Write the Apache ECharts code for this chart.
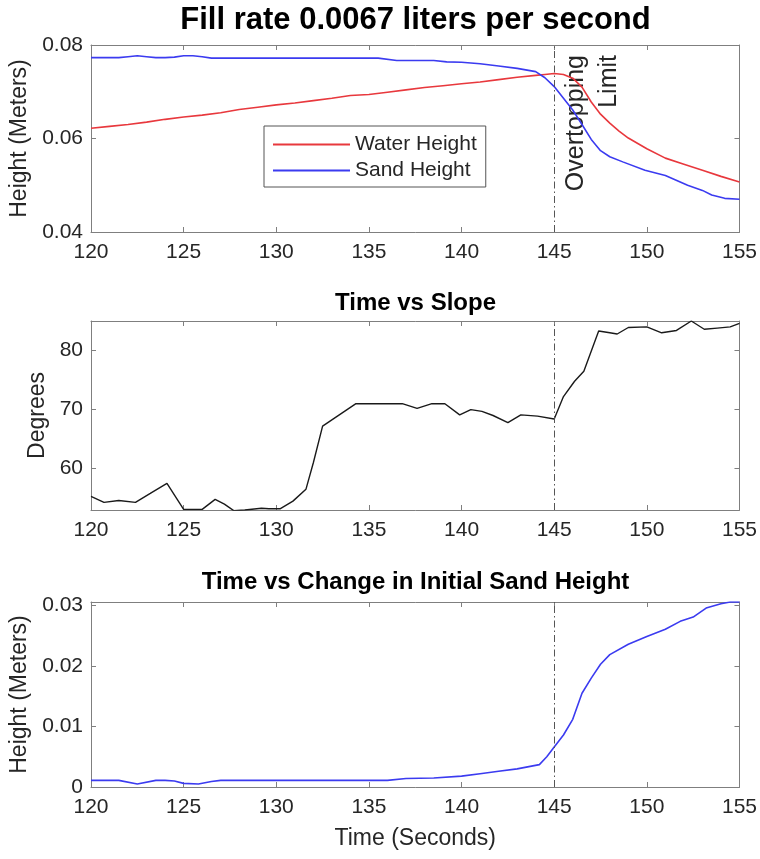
<!DOCTYPE html>
<html>
<head>
<meta charset="utf-8">
<script src="https://cdn.jsdelivr.net/npm/echarts@6/dist/echarts.min.js"></script>
<style>
  html, body { margin: 0; padding: 0; background: #fff; }
  #main { width: 760px; height: 859px; }
</style>
</head>
<body>
<div id="main"></div>
<script>
// water / sand height over time (top plot)
var waterTime = [120, 121, 122, 123, 124, 125, 126, 127, 128, 129, 130, 131, 132, 133, 134, 135, 136, 137, 138, 139,
  140, 141, 142, 143, 144, 144.5, 145, 145.5, 146, 146.5, 147, 147.5, 148, 148.5, 149, 150, 151, 152, 153, 154, 155];
var waterHeight = [0.0622, 0.0626, 0.0630, 0.0635, 0.0641, 0.0646, 0.0650, 0.0655, 0.0662, 0.0667, 0.0672, 0.0676,
  0.0681, 0.0686, 0.0692, 0.0694, 0.0699, 0.0704, 0.0709, 0.0713, 0.0717, 0.0721, 0.0726, 0.0731, 0.0735, 0.0737,
  0.0739, 0.0737, 0.0729, 0.0710, 0.0678, 0.0652, 0.0633, 0.0616, 0.0601, 0.0578, 0.0558, 0.0545, 0.0532, 0.0519, 0.0507];

var sandTime = [120, 121, 121.5, 122, 122.5, 123, 123.5, 124, 124.5, 125, 125.5, 126, 126.5, 130, 135.5, 136.5, 138.5,
  139.2, 140, 141, 142, 143, 144, 144.5, 145, 145.5, 146, 146.5, 147, 147.5, 148, 148.7, 149.9, 151, 152.2, 153,
  153.5, 154.2, 155];
var sandHeight = [0.0773, 0.0773, 0.0773, 0.0775, 0.0777, 0.0775, 0.0773, 0.0773, 0.0774, 0.0777, 0.0777, 0.0775,
  0.0772, 0.0772, 0.0772, 0.0767, 0.0767, 0.0764, 0.0763, 0.0760, 0.0755, 0.0750, 0.0743, 0.0730, 0.0711, 0.0686,
  0.0661, 0.0630, 0.0598, 0.0574, 0.0561, 0.0550, 0.0532, 0.0521, 0.0500, 0.0489, 0.0479, 0.0472, 0.0470];

// slope (middle plot)
var slopeTime = [120, 120.7, 121.5, 122.4, 123.2, 124.1, 125, 125.5, 126, 126.7, 127.2, 127.7, 128.3, 129.2, 129.6,
  130.2, 130.9, 131.6, 132, 132.5, 133.3, 134.3, 135, 136, 136.8, 137.6, 138.4, 139.1, 139.9, 140.5, 141.1, 141.7,
  142.5, 143.2, 144.1, 145, 145.5, 146.1, 146.6, 147.4, 148, 148.4, 149, 150, 150.8, 151.6, 152.4, 153.1, 153.8,
  154.5, 155];
var slopeDeg = [55.3, 54.3, 54.6, 54.3, 55.8, 57.5, 53.1, 53.1, 53.1, 54.8, 54.0, 52.9, 53.0, 53.3, 53.2, 53.2, 54.5,
  56.5, 61.0, 67.2, 68.9, 71.0, 71.0, 71.0, 71.0, 70.2, 71.0, 71.0, 69.1, 70.0, 69.7, 69.0, 67.8, 69.1, 68.9, 68.4,
  72.2, 74.8, 76.5, 83.3, 83.0, 82.8, 83.9, 84.0, 83.0, 83.4, 85.0, 83.6, 83.8, 84.0, 84.6];

// change in initial sand height (bottom plot)
var changeTime = [120, 121.5, 122.5, 123.5, 124, 124.5, 125, 125.8, 126.5, 127, 136, 137, 138.5, 140, 141, 142, 143,
  144.2, 144.6, 145, 145.5, 146, 146.5, 147, 147.5, 148, 149, 150, 151, 151.8, 152.5, 153.2, 154, 154.5, 155];
var sandChange = [0.0011, 0.0011, 0.0005, 0.0011, 0.0011, 0.0010, 0.0006, 0.0005, 0.0009, 0.0011, 0.0011, 0.0014,
  0.0015, 0.0018, 0.0022, 0.0026, 0.0030, 0.0037, 0.0050, 0.0066, 0.0086, 0.0112, 0.0155, 0.0180, 0.0203, 0.0219,
  0.0236, 0.0249, 0.0261, 0.0274, 0.0281, 0.0296, 0.0303, 0.0306, 0.0306];

var xTicks = [120, 125, 130, 135, 140, 145, 150, 155];
var slopeTicks = [60, 70, 80];
var changeTicks = [0, 0.01, 0.02, 0.03];
var overtopTime = 145;

function pairs(xs, ys) {
  var out = [];
  for (var i = 0; i < xs.length; i++) out.push([xs[i], ys[i]]);
  return out;
}

var FONT = '"Liberation Sans", Arial, Helvetica, sans-serif';
var boxColor = '#7f7f7f';
var textColor = '#262626';
var red = '#e8383d';
var blue = '#3b3bf0';

function bottomAxis(idx, name) {
  return {
    type: 'value', gridIndex: idx, position: 'bottom', min: 120, max: 155, interval: 5,
    name: name || '', nameLocation: 'middle', nameGap: 40,
    nameTextStyle: {fontFamily: FONT, fontSize: 23, color: textColor},
    axisLine: {show: true, onZero: false, lineStyle: {color: boxColor, width: 1}},
    axisTick: {inside: true, length: 5, lineStyle: {color: boxColor}},
    axisLabel: {fontFamily: FONT, fontSize: 21, color: textColor, margin: 10, showMinLabel: true, showMaxLabel: true},
    splitLine: {show: false}
  };
}
function topAxis(idx) {
  return {
    type: 'value', gridIndex: idx, position: 'top', min: 120, max: 155, interval: 5,
    axisLine: {show: true, onZero: false, lineStyle: {color: boxColor, width: 1}},
    axisTick: {inside: true, length: 5, lineStyle: {color: boxColor}},
    axisLabel: {show: false}, splitLine: {show: false}
  };
}
function leftAxis(idx, name, gap, extra) {
  var a = {
    type: 'value', gridIndex: idx, position: 'left',
    name: name, nameLocation: 'middle', nameGap: gap,
    nameTextStyle: {fontFamily: FONT, fontSize: 23, color: textColor},
    axisLine: {show: true, onZero: false, lineStyle: {color: boxColor, width: 1}},
    axisTick: {inside: true, length: 5, lineStyle: {color: boxColor}},
    axisLabel: {fontFamily: FONT, fontSize: 21, color: textColor, margin: 8, showMinLabel: true, showMaxLabel: true},
    splitLine: {show: false}
  };
  return Object.assign(a, extra);
}
function rightAxis(idx, extra) {
  var a = {
    type: 'value', gridIndex: idx, position: 'right',
    axisLine: {show: true, onZero: false, lineStyle: {color: boxColor, width: 1}},
    axisTick: {inside: true, length: 5, lineStyle: {color: boxColor}},
    axisLabel: {show: false}, splitLine: {show: false}
  };
  return Object.assign(a, extra);
}

var vline = {
  silent: true, symbol: ['none', 'none'], animation: false,
  label: {show: false},
  lineStyle: {color: '#555', width: 1, type: [7, 3, 1.5, 3]},
  data: [{xAxis: overtopTime}]
};

var slopeY = {min: 53, max: 85,
  axisLabel: {customValues: slopeTicks, fontFamily: FONT, fontSize: 21, color: textColor, margin: 8},
  axisTick: {inside: true, length: 5, customValues: slopeTicks, lineStyle: {color: boxColor}}};
var changeY = {min: 0, max: 0.0306,
  axisLabel: {customValues: changeTicks, fontFamily: FONT, fontSize: 21, color: textColor, margin: 8,
    formatter: function (v) { return v === 0 ? '0' : v.toFixed(2); }},
  axisTick: {inside: true, length: 5, customValues: changeTicks, lineStyle: {color: boxColor}}};

var chart = echarts.init(document.getElementById('main'), null, {renderer: 'canvas'});
var option = {
  animation: false,
  backgroundColor: '#fff',
  title: [
    {text: 'Fill rate 0.0067 liters per second', left: 415.5, textAlign: 'center', top: 5, padding: 0,
      textStyle: {fontFamily: FONT, fontSize: 31, fontWeight: 'bold', color: '#000'}},
    {text: 'Time vs Slope', left: 415.5, textAlign: 'center', top: 291, padding: 0,
      textStyle: {fontFamily: FONT, fontSize: 24, fontWeight: 'bold', color: '#000'}},
    {text: 'Time vs Change in Initial Sand Height', left: 415.5, textAlign: 'center', top: 570, padding: 0,
      textStyle: {fontFamily: FONT, fontSize: 24, fontWeight: 'bold', color: '#000'}}
  ],
  legend: {
    orient: 'vertical', left: 264, top: 126,
    padding: [8, 9, 6, 9], itemGap: 5, itemWidth: 77, itemHeight: 2, icon: 'rect',
    backgroundColor: '#fff', borderColor: '#555', borderWidth: 1,
    textStyle: {fontFamily: FONT, fontSize: 21, color: textColor},
    data: ['Water Height', 'Sand Height']
  },
  grid: [
    {left: 91, right: 20, top: 45, height: 187},
    {left: 91, right: 20, top: 321, height: 189},
    {left: 91, right: 20, top: 602, height: 185}
  ],
  xAxis: [
    bottomAxis(0), bottomAxis(1), bottomAxis(2, 'Time (Seconds)'),
    topAxis(0), topAxis(1), topAxis(2)
  ],
  yAxis: [
    leftAxis(0, 'Height (Meters)', 57, {min: 0.04, max: 0.08, interval: 0.02}),
    leftAxis(1, 'Degrees', 39, slopeY),
    leftAxis(2, 'Height (Meters)', 57, changeY),
    rightAxis(0, {min: 0.04, max: 0.08, interval: 0.02}),
    rightAxis(1, {min: 53, max: 85, axisTick: {inside: true, length: 5, customValues: slopeTicks, lineStyle: {color: boxColor}}}),
    rightAxis(2, {min: 0, max: 0.0306, axisTick: {inside: true, length: 5, customValues: changeTicks, lineStyle: {color: boxColor}}})
  ],
  series: [
    {name: 'Water Height', type: 'line', xAxisIndex: 0, yAxisIndex: 0, symbol: 'none',
      color: red, lineStyle: {width: 1.6, color: red}, data: pairs(waterTime, waterHeight),
      markLine: vline},
    {name: 'Sand Height', type: 'line', xAxisIndex: 0, yAxisIndex: 0, symbol: 'none',
      color: blue, lineStyle: {width: 1.6, color: blue}, data: pairs(sandTime, sandHeight)},
    {name: 'Slope', type: 'line', xAxisIndex: 1, yAxisIndex: 1, symbol: 'none',
      color: '#1a1a1a', lineStyle: {width: 1.4, color: '#1a1a1a'}, data: pairs(slopeTime, slopeDeg),
      markLine: vline},
    {name: 'Change', type: 'line', xAxisIndex: 2, yAxisIndex: 2, symbol: 'none',
      color: blue, lineStyle: {width: 1.6, color: blue}, data: pairs(changeTime, sandChange),
      markLine: vline}
  ]
};
chart.setOption(option);

// rotated "Overtopping Limit" note next to the dash-dot line
var anchor = chart.convertToPixel({xAxisIndex: 0, yAxisIndex: 0}, [overtopTime, 0.08]);
chart.setOption({
  graphic: [{
    type: 'text', x: anchor[0] + 5, y: anchor[1] + 10, rotation: Math.PI / 2,
    style: {text: 'Overtopping\nLimit', fontFamily: FONT, fontSize: 25, lineHeight: 33,
      fill: textColor, align: 'right', verticalAlign: 'top'}
  }]
});
</script>
</body>
</html>
